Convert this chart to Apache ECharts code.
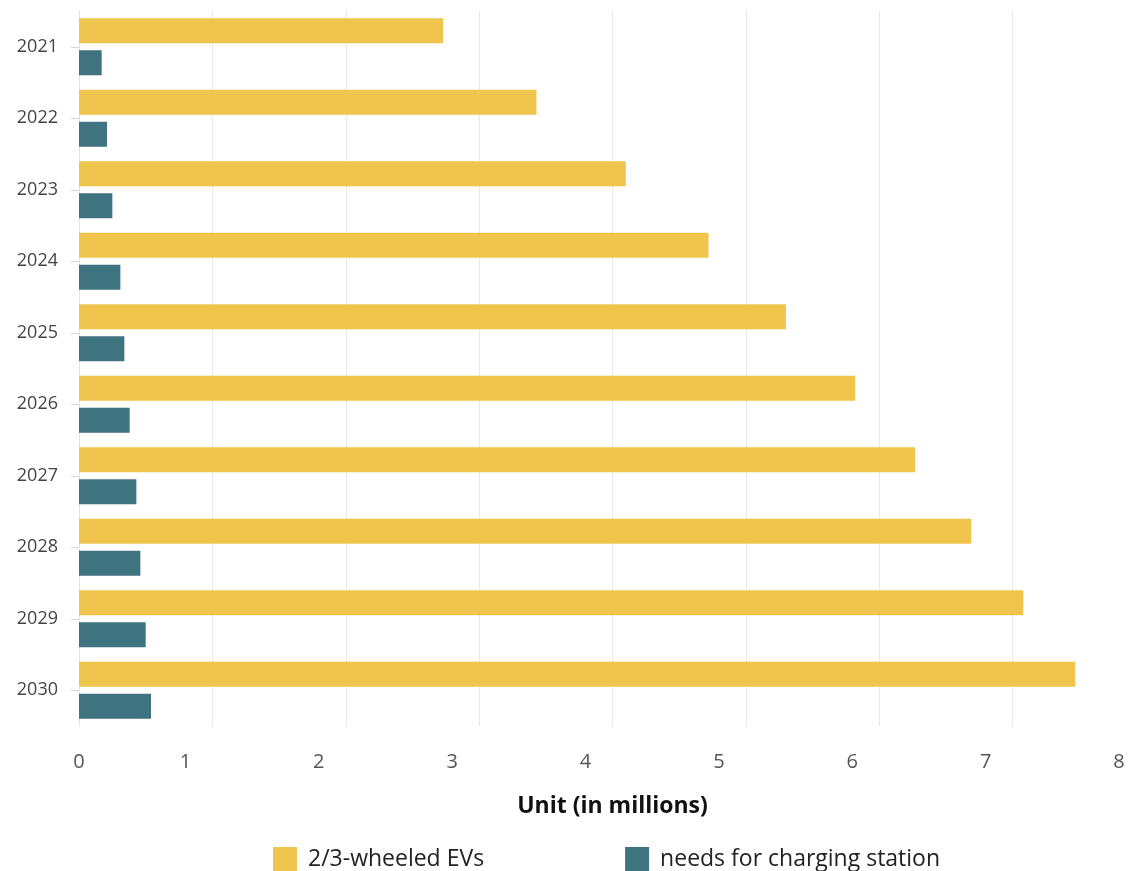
<!DOCTYPE html>
<html>
<head>
<meta charset="utf-8">
<style>
  html, body { margin: 0; padding: 0; background: #ffffff; overflow: hidden; }
  /* canvas runs a few pixels past the window so the "8" gridline sits just off the edge */
  #chart { width: 1146px; height: 871px; }
</style>
<script src="https://cdn.jsdelivr.net/npm/echarts@6/dist/echarts.min.js"></script>
</head>
<body>
<div id="chart"></div>
<script>
// Years shown on the category axis (top to bottom)
const years = ['2021', '2022', '2023', '2024', '2025', '2026', '2027', '2028', '2029', '2030'];

// Projected 2/3-wheeled EV fleet, in millions
const evUnits = [2.73, 3.43, 4.10, 4.72, 5.30, 5.82, 6.27, 6.69, 7.08, 7.47];

// Charging stations needed, in millions
const chargingNeeds = [0.17, 0.21, 0.25, 0.31, 0.34, 0.38, 0.43, 0.46, 0.50, 0.54];

const seriesNames = ['2/3-wheeled EVs', 'needs for charging station'];
const axisTitle = 'Unit (in millions)';

const chart = echarts.init(document.getElementById('chart'), null, { renderer: 'canvas' });

chart.setOption({
  backgroundColor: '#ffffff',
  animation: false,
  textStyle: { fontFamily: '"Open Sans", sans-serif' },
  grid: { left: 79, right: 0, top: 11, height: 715, containLabel: false },
  legend: {
    data: seriesNames,
    left: 268,
    top: 842,
    itemWidth: 24,
    itemHeight: 24,
    itemGap: 141,
    icon: 'rect',
    textStyle: {
      fontFamily: '"Open Sans", sans-serif',
      fontSize: 23,
      color: '#222222',
      padding: [0, 0, 0, 6]
    }
  },
  xAxis: {
    type: 'value',
    min: 0,
    max: 8,
    interval: 1,
    name: axisTitle,
    nameLocation: 'middle',
    nameGap: 69,
    nameTextStyle: {
      fontFamily: '"Open Sans", sans-serif',
      fontSize: 23,
      fontWeight: 'bold',
      color: '#111111'
    },
    axisLine: { show: false },
    axisTick: { show: false },
    splitLine: { show: true, lineStyle: { color: '#e8e8e8', width: 1 } },
    axisLabel: {
      margin: 26,
      fontSize: 20,
      color: '#555555',
      formatter: function (v) {
        return v === 0 ? '{z|0}' : '{s|' + v + '}';
      },
      rich: {
        z: { fontSize: 20, color: '#555555' },
        s: { fontSize: 20, color: '#555555', padding: [0, 54, 0, 0] }
      }
    }
  },
  yAxis: {
    type: 'category',
    data: years,
    inverse: true,
    axisLine: { show: true, lineStyle: { color: '#e3e3e3', width: 1 } },
    axisTick: { show: true, alignWithLabel: true, length: 8, lineStyle: { color: '#d8d8d8' } },
    axisLabel: { margin: 21, fontSize: 18, color: '#444444', padding: [4, 0, 0, 0] },
    splitLine: { show: false }
  },
  series: [
    {
      name: seriesNames[0],
      type: 'bar',
      data: evUnits,
      barWidth: 25,
      barGap: '28%',
      barCategoryGap: '20%',
      itemStyle: { color: '#F0C54E' }
    },
    {
      name: seriesNames[1],
      type: 'bar',
      data: chargingNeeds,
      barWidth: 25,
      barGap: '28%',
      barCategoryGap: '20%',
      itemStyle: { color: '#3F7380' }
    }
  ]
});
</script>
</body>
</html>
